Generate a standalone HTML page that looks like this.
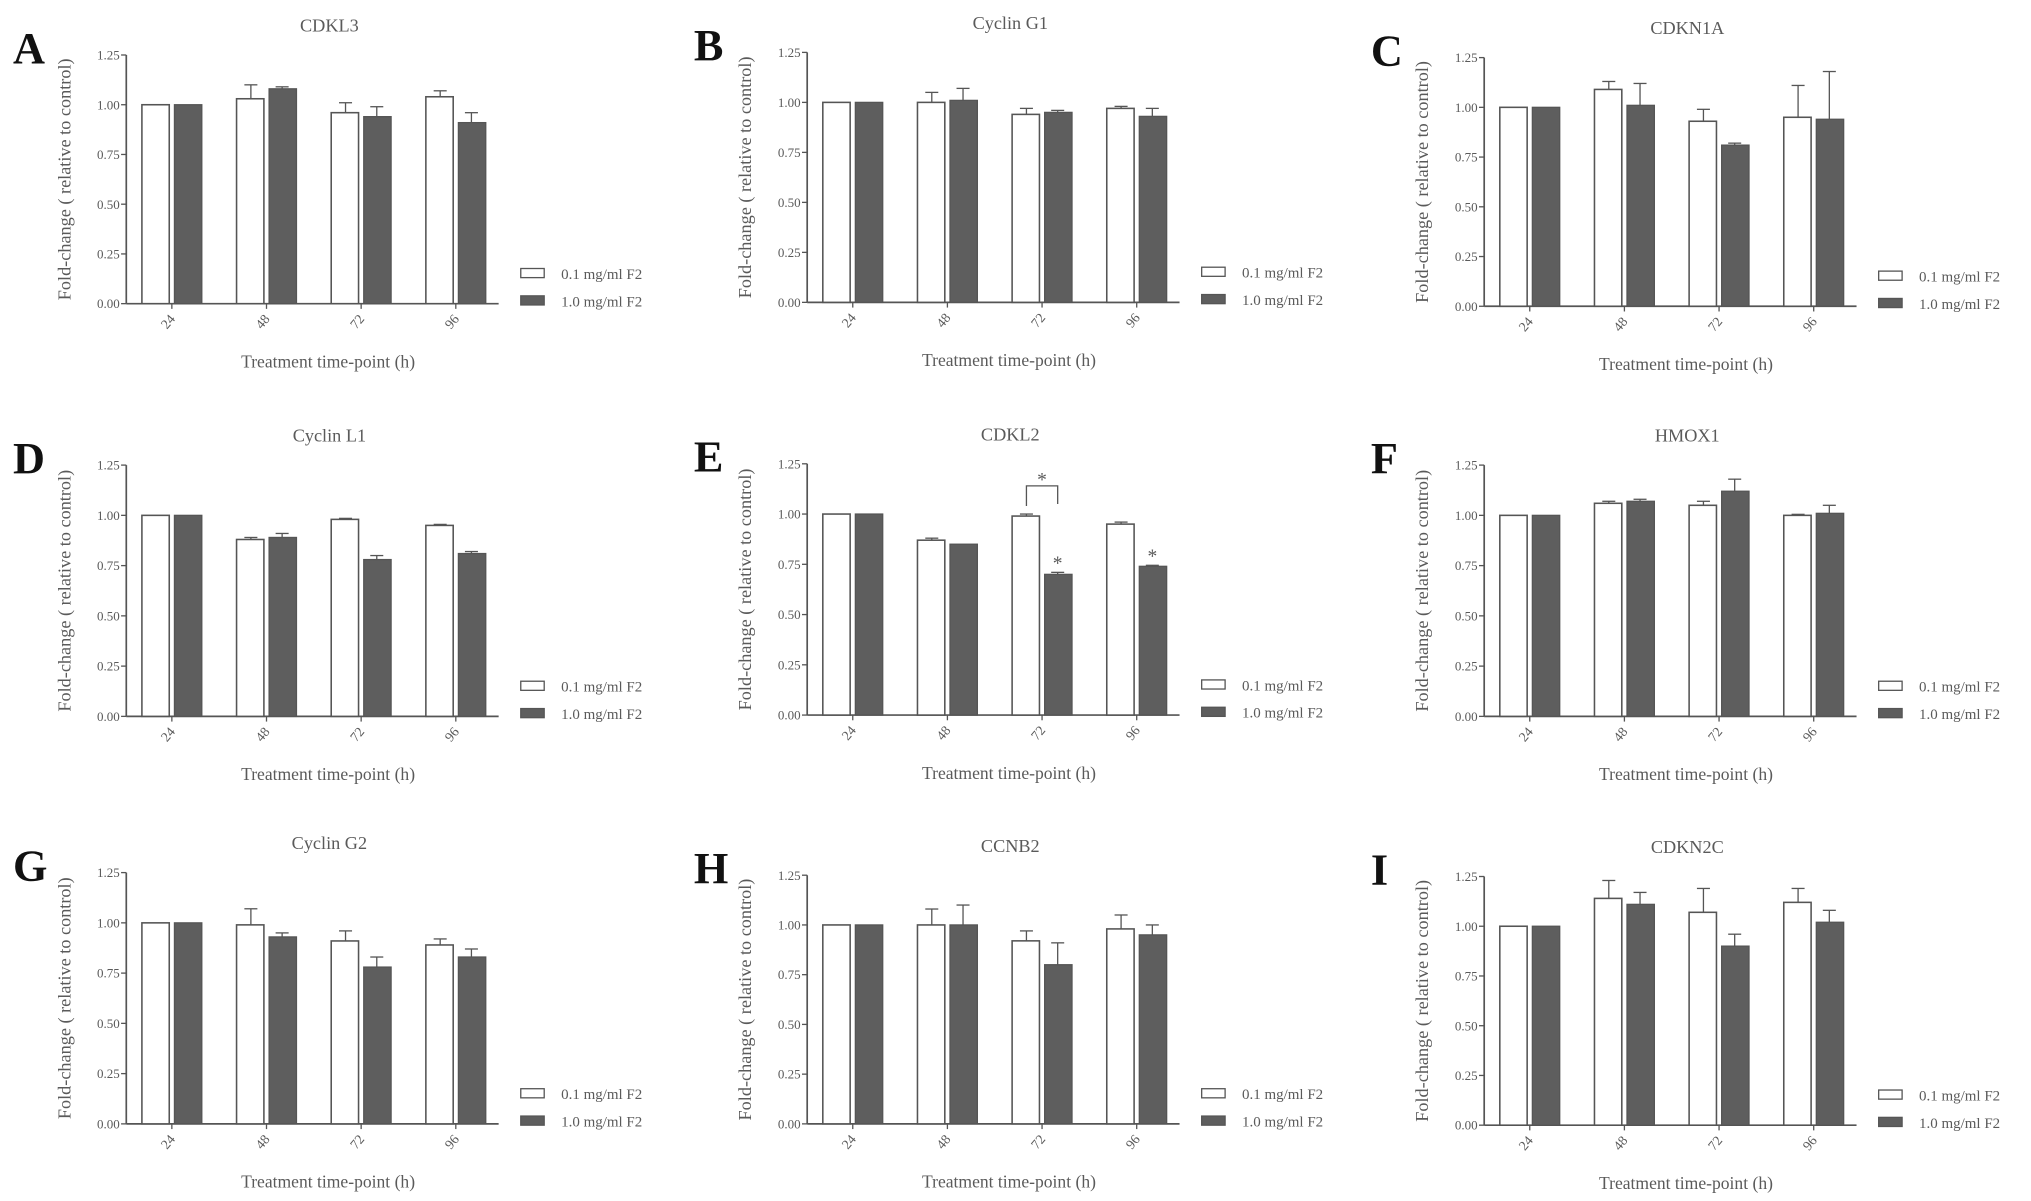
<!DOCTYPE html>
<html><head><meta charset="utf-8"><style>
html,body{margin:0;padding:0;background:#fff}
svg{display:block}
text{font-family:"Liberation Serif",serif;fill:#5a5a5a}
</style></head><body>
<svg id="fig" width="2031" height="1201" viewBox="0 0 1560 922" xmlns="http://www.w3.org/2000/svg"></svg>
<script>
const categories = ["24","48","72","96"];
const yTicks = [0, 0.25, 0.5, 0.75, 1.0, 1.25];
const yTickLabels = ["0.00","0.25","0.50","0.75","1.00","1.25"];
const titles = ["CDKL3","Cyclin G1","CDKN1A","Cyclin L1","CDKL2","HMOX1","Cyclin G2","CCNB2","CDKN2C"];
const letters = ["A","B","C","D","E","F","G","H","I"];
const lowValues = [[1,1.03,0.96,1.04],[1,1.0,0.94,0.97],[1,1.09,0.93,0.95],[1,0.88,0.98,0.95],[1,0.87,0.99,0.95],[1,1.06,1.05,1.0],[1,0.99,0.91,0.89],[1,1.0,0.92,0.98],[1,1.14,1.07,1.12]];
const lowErr = [[0,0.07,0.05,0.03],[0,0.05,0.03,0.01],[0,0.04,0.06,0.16],[0,0.01,0.005,0.005],[0,0.01,0.01,0.01],[0,0.01,0.02,0.005],[0,0.08,0.05,0.03],[0,0.08,0.05,0.07],[0,0.09,0.12,0.07]];
const highValues = [[1,1.08,0.94,0.91],[1,1.01,0.95,0.93],[1,1.01,0.81,0.94],[1,0.89,0.78,0.81],[1,0.85,0.70,0.74],[1,1.07,1.12,1.01],[1,0.93,0.78,0.83],[1,1.0,0.80,0.95],[1,1.11,0.90,1.02]];
const highErr = [[0,0.01,0.05,0.05],[0,0.06,0.01,0.04],[0,0.11,0.01,0.24],[0,0.02,0.02,0.01],[0,0,0.01,0.005],[0,0.01,0.06,0.04],[0,0.02,0.05,0.04],[0,0.1,0.11,0.05],[0,0.06,0.06,0.06]];
const legendLabels = ["0.1 mg/ml  F2","1.0 mg/ml  F2"];

const NS="http://www.w3.org/2000/svg";
const svg=document.getElementById('fig');
function mk(tag,attrs,parent,text){const e=document.createElementNS(NS,tag);for(const k in attrs)e.setAttribute(k,attrs[k]);if(text!==undefined)e.textContent=text;(parent||svg).appendChild(e);return e;}
const origins=[[97,233,42],[620,232,40],[1140,235,44],[97,550,357],[620,549,356],[1140,550,357],[97,863,670],[620,863,672],[1140,864,673]];
origins.forEach((o,p)=>{
  const [ax,y0,yTop]=o;
  const g=mk('g',{});
  
  
  const ys=v=>y0-(y0-yTop)*v/1.25;
  const xc=i=>ax+35+i*72.7;
  const L=mk('text',{x:ax-87,y:ys(1.25)+6,'font-size':34,'font-weight':'bold',style:'fill:#111'},g,letters[p]);
  
  
  const T=mk('text',{x:ax+156,y:ys(1.25)-18,'font-size':14,'text-anchor':'middle'},g,titles[p]);
  
  
  const ya=mk('line',{x1:ax,y1:ys(1.25),x2:ax,y2:y0,stroke:'#555','stroke-width':1.3},g);
  
  
  const xa=mk('line',{x1:ax,y1:y0,x2:ax+286,y2:y0,stroke:'#555','stroke-width':1.3},g);
  
  
  yTicks.forEach((t,i)=>{
    mk('line',{x1:ax-4,y1:ys(t),x2:ax,y2:ys(t),stroke:'#555'},g);
    const tl=mk('text',{x:ax-5,y:ys(t)+3.5,'font-size':10,'text-anchor':'end'},g,yTickLabels[i]);
    
    
  });
  const yl=mk('text',{x:0,y:0,'font-size':14,'text-anchor':'middle',transform:`translate(${ax-43},${(y0+ys(1.25))/2}) rotate(-90)`},g,'Fold-change ( relative to control)');
  
  
  const xl=mk('text',{x:ax+155,y:y0+49,'font-size':13.5,'text-anchor':'middle'},g,'Treatment time-point (h)');
  
  
  categories.forEach((c,i)=>{
    const cx=xc(i);
    mk('line',{x1:cx,y1:y0,x2:cx,y2:y0+4,stroke:'#555'},g);
    const xt=mk('text',{x:0,y:0,'font-size':10.5,'text-anchor':'end',transform:`translate(${cx+3},${y0+12}) rotate(-50)`},g,c);
    
    
    const e1=lowValues[p][i]+lowErr[p][i], e2=highValues[p][i]+highErr[p][i];
    if(lowErr[p][i]>0){mk('line',{x1:cx-12,y1:ys(lowValues[p][i]),x2:cx-12,y2:ys(e1),stroke:'#555'},g);mk('line',{x1:cx-17,y1:ys(e1),x2:cx-7,y2:ys(e1),stroke:'#555'},g);}
    if(highErr[p][i]>0){mk('line',{x1:cx+12,y1:ys(highValues[p][i]),x2:cx+12,y2:ys(e2),stroke:'#555'},g);mk('line',{x1:cx+7,y1:ys(e2),x2:cx+17,y2:ys(e2),stroke:'#555'},g);}
    const b1=mk('rect',{x:cx-23,y:ys(lowValues[p][i]),width:21,height:y0-ys(lowValues[p][i]),fill:'#fff',stroke:'#555','stroke-width':1.2},g);
    
    
    const b2=mk('rect',{x:cx+2,y:ys(highValues[p][i]),width:21,height:y0-ys(highValues[p][i]),fill:'#5e5e5e',stroke:'#555','stroke-width':1},g);
    
    
  });
  [0,1].forEach(k=>{
    const ly=y0-23+k*21;
    const sw=mk('rect',{x:ax+303,y:ly-4,width:18,height:7,fill:k?'#5e5e5e':'#fff',stroke:'#555'},g);
    
    
    const lt=mk('text',{x:ax+334,y:ly+4,'font-size':11.5},g,legendLabels[k]);
    
    
  });
  if(p===4){
    const c2=xc(2),c3=xc(3);
    mk('path',{d:`M${c2-12} ${ys(1.04)} V${ys(1.14)} H${c2+12} V${ys(1.05)}`,fill:'none',stroke:'#555'},g);
    [[c2,ys(1.14)-6],[c2+12,ys(0.71)-8],[c3+12,ys(0.745)-8]].forEach(s=>{
      const st=mk('text',{x:s[0],y:s[1]+6,'font-size':15,'text-anchor':'middle'},g,'*');
      
      
    });
  }
});
</script>
</body></html>
